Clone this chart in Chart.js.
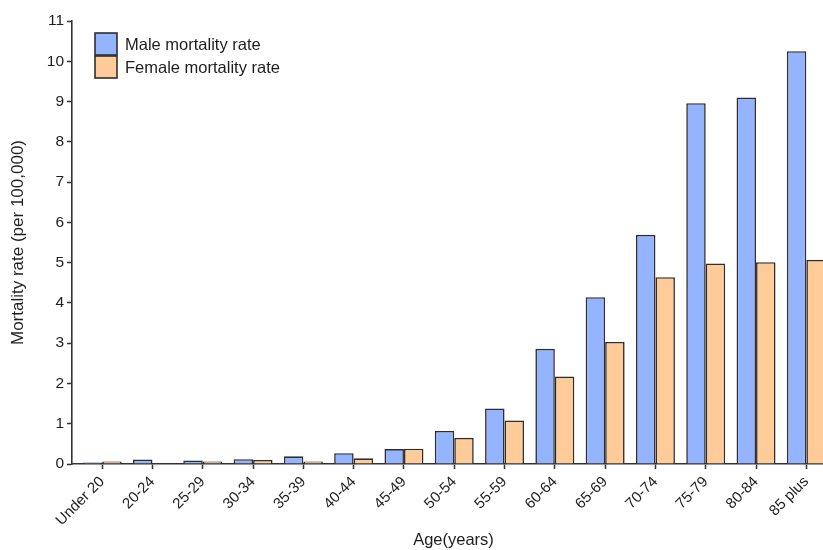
<!DOCTYPE html>
<html>
<head>
<meta charset="utf-8">
<title>Mortality rate by age</title>
<script src="https://cdn.jsdelivr.net/npm/chart.js@4/dist/chart.umd.min.js"></script>
<style>
  html, body { margin: 0; padding: 0; background: #fff; overflow: hidden; }
  #mortalityChart { display: block; }
</style>
</head>
<body>
<canvas id="mortalityChart" width="835" height="550"></canvas>
<script>
// Age groups along the x axis
const ageGroups = ['Under 20', '20-24', '25-29', '30-34', '35-39', '40-44', '45-49',
  '50-54', '55-59', '60-64', '65-69', '70-74', '75-79', '80-84', '85 plus'];

// Mortality rate per 100,000
const maleRates = [0.04, 0.11, 0.09, 0.12, 0.19, 0.27, 0.37, 0.82, 1.38, 2.86, 4.14, 5.69, 8.96, 9.10, 10.25];
const femaleRates = [0.06, 0.01, 0.06, 0.10, 0.06, 0.14, 0.38, 0.65, 1.08, 2.17, 3.03, 4.64, 4.98, 5.01, 5.07];

const seriesLabels = ['Male mortality rate', 'Female mortality rate'];
const yMax = 11;

const FONT = '"Liberation Sans", Arial, sans-serif';
const AXIS_COLOR = '#333';

document.addEventListener('DOMContentLoaded', () => {
  initMortalityChart();
});

// Legend drawn as a stacked box list in the top-left of the plot
const boxLegend = {
  id: 'boxLegend',
  afterDraw(chart) {
    const ctx = chart.ctx;
    const area = chart.chartArea;
    const size = 22;
    const x = area.left + 23;
    let y = area.top + 12;
    ctx.save();
    ctx.font = '16.5px ' + FONT;
    ctx.textBaseline = 'middle';
    chart.data.datasets.forEach((ds) => {
      ctx.fillStyle = ds.backgroundColor;
      ctx.fillRect(x, y, size, size);
      ctx.lineWidth = 1.6;
      ctx.strokeStyle = ds.borderColor;
      ctx.strokeRect(x, y, size, size);
      ctx.fillStyle = '#1e1e1e';
      ctx.fillText(ds.label, x + size + 8, y + size / 2 + 1);
      y += size + 1;
    });
    ctx.restore();
  }
};

function initMortalityChart() {
  const ctx = document.getElementById('mortalityChart').getContext('2d');
  return new Chart(ctx, {
    type: 'bar',
    data: {
      datasets: [{
        label: seriesLabels[0],
        data: maleRates.map((v, i) => ({ x: i, y: v })),
        backgroundColor: '#94b4ff',
        borderColor: '#2e2e2e',
        borderWidth: 1.6
      }, {
        label: seriesLabels[1],
        data: femaleRates.map((v, i) => ({ x: i, y: v })),
        backgroundColor: '#ffcc99',
        borderColor: '#2e2e2e',
        borderWidth: 1.6
      }]
    },
    options: {
      responsive: false,
      animation: false,
      layout: { padding: { top: 21, left: 0, right: 0, bottom: 0 } },
      datasets: {
        bar: { categoryPercentage: 0.775, barPercentage: 1 }
      },
      plugins: {
        legend: { display: false },
        tooltip: { enabled: false }
      },
      scales: {
        x: {
          type: 'linear',
          min: -0.6,
          max: 14.57,
          offset: false,
          afterBuildTicks(scale) {
            scale.ticks = ageGroups.map((_, i) => ({ value: i }));
          },
          afterFit(scale) {
            scale.height = 86;
          },
          ticks: {
            autoSkip: false,
            minRotation: 45,
            maxRotation: 45,
            padding: 4,
            color: '#1e1e1e',
            font: { family: FONT, size: 15 },
            callback: (value) => ageGroups[value]
          },
          grid: {
            offset: false,
            drawOnChartArea: false,
            drawTicks: true,
            tickLength: 5,
            tickWidth: 1.5,
            tickColor: AXIS_COLOR
          },
          border: { display: true, color: AXIS_COLOR, width: 1.6 },
          title: {
            display: true,
            text: 'Age(years)',
            color: '#1e1e1e',
            font: { family: FONT, size: 16.5 },
            padding: { top: 0, bottom: 0 }
          }
        },
        y: {
          min: 0,
          max: yMax,
          afterFit(scale) {
            scale.width = 72;
          },
          ticks: {
            stepSize: 1,
            padding: 3,
            color: '#1e1e1e',
            font: { family: FONT, size: 15.5 }
          },
          grid: {
            drawOnChartArea: false,
            drawTicks: true,
            tickLength: 5,
            tickWidth: 1.5,
            tickColor: AXIS_COLOR
          },
          border: { display: true, color: AXIS_COLOR, width: 1.6 },
          title: {
            display: true,
            text: 'Mortality rate (per 100,000)',
            color: '#1e1e1e',
            font: { family: FONT, size: 17 },
            padding: { top: 8, bottom: 0 }
          }
        }
      }
    },
    plugins: [boxLegend]
  });
}
</script>
</body>
</html>
